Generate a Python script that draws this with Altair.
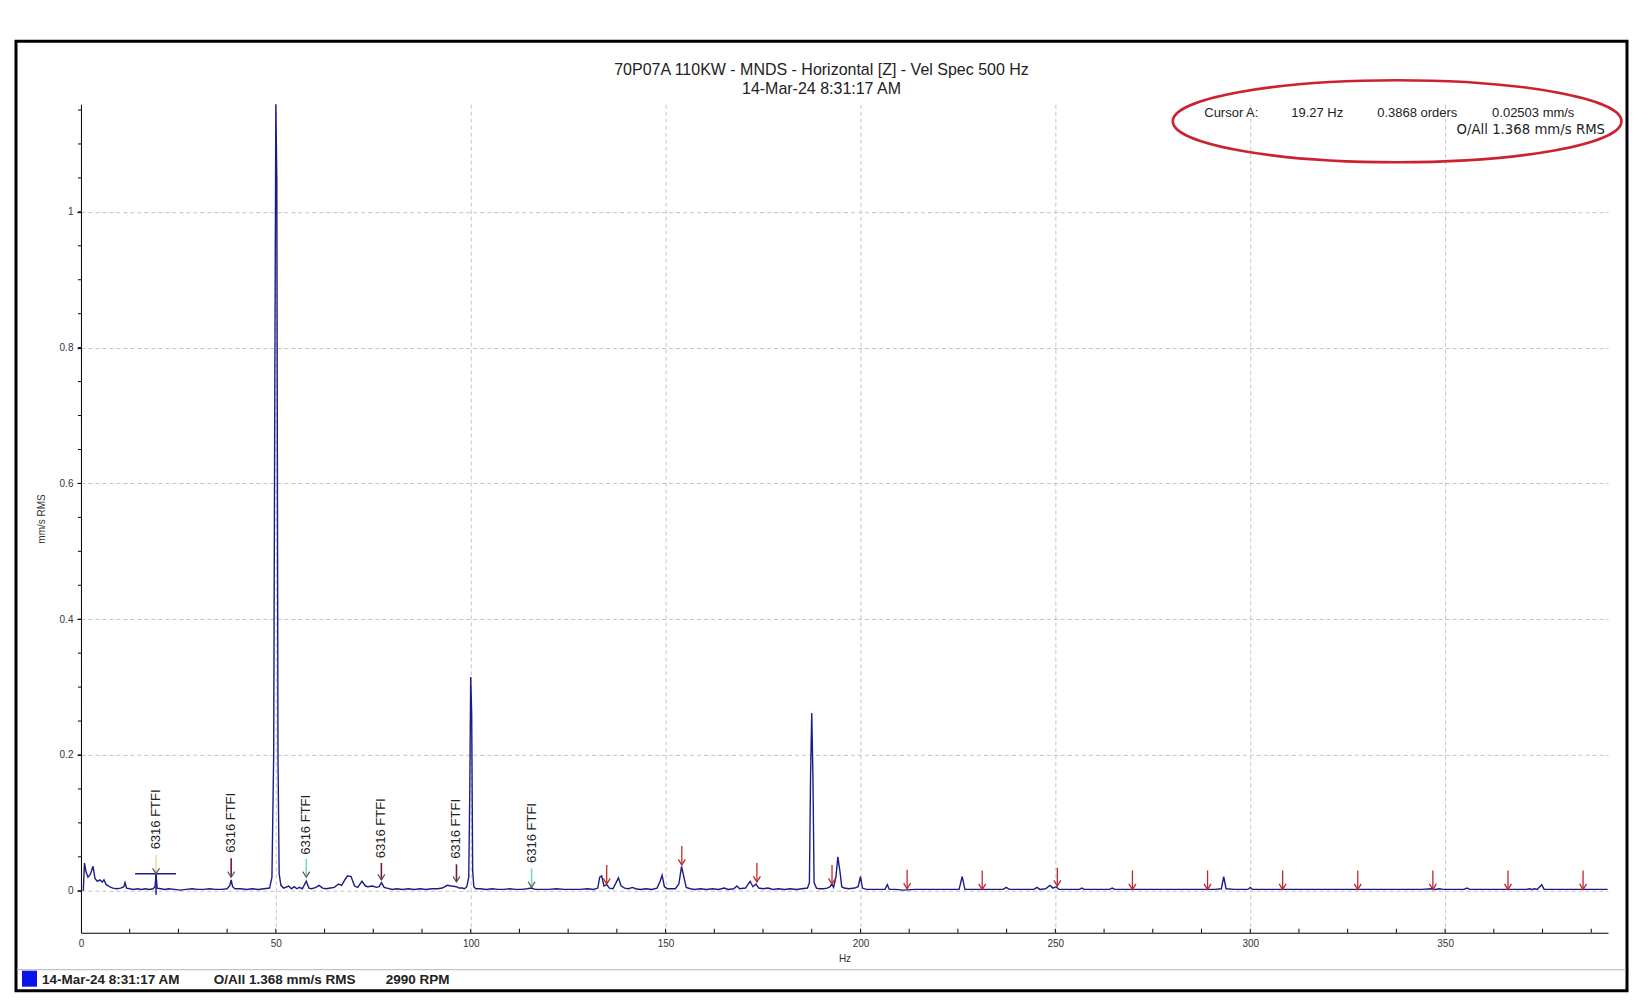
"""
Velocity spectrum plot, 70P07A 110KW motor NDS horizontal.
"""
import altair as alt
import pandas as pd

FONT = "Liberation Sans"

# Spectrum (Hz / mm/s RMS).
freq_hz = [0.6, 0.9, 1.3, 1.8, 2.4, 3.1, 3.6, 4.2, 4.8, 5.5, 5.9, 6.5, 7.3, 8.2, 9.2,
           10.2, 11.0, 11.3, 11.7, 12.5, 13.5, 14.5, 15.5, 16.5, 17.5, 18.5, 19.0, 19.27,
           19.55, 20.5, 21.5, 22.5, 24.0, 25.5, 27.0, 28.5, 30.0, 31.5, 33.0, 34.5, 36.0,
           37.5, 38.2, 38.55, 38.9, 39.5, 41.0, 42.5, 44.0, 45.5, 47.0, 48.4, 49.0, 49.45,
           49.75, 50.0, 50.25, 50.55, 50.85, 51.3, 52.0, 53.3, 54.0, 54.7, 55.4, 56.0, 56.8,
           57.8, 58.5, 59.2, 60.3, 61.1, 62.0, 62.9, 64.0, 65.0, 66.1, 66.9, 67.8, 68.4,
           69.3, 70.2, 71.0, 72.1, 73.0, 73.6, 74.8, 75.8, 76.5, 77.1, 77.8, 78.5, 79.9,
           81.0, 82.5, 84.0, 85.5, 87.0, 88.5, 90.0, 91.5, 92.7, 94.0, 95.0, 96.35, 97.0,
           97.8, 98.4, 99.0, 99.5, 99.75, 100.0, 100.25, 100.5, 100.8, 101.3, 102.5, 104.0,
           105.5, 107.0, 108.5, 110.0, 111.5, 113.0, 114.5, 115.6, 116.5, 118.0, 120.0,
           122.0, 124.0, 126.0, 128.0, 130.0, 131.5, 132.6, 133.1, 133.6, 134.2, 134.9,
           135.6, 136.5, 137.3, 137.9, 138.6, 139.5, 140.5, 141.5, 142.3, 143.5, 145.0,
           146.5, 147.8, 148.6, 149.1, 149.7, 150.5, 151.5, 152.5, 153.4, 154.1, 154.7,
           155.3, 156.3, 157.5, 159.0, 160.5, 162.0, 163.5, 165.1, 166.0, 167.5, 168.3,
           169.0, 170.5, 171.7, 172.4, 173.2, 173.9, 175.0, 176.3, 177.5, 179.0, 180.5,
           182.0, 183.5, 185.0, 186.4, 186.9, 187.2, 187.5, 187.8, 188.1, 188.7, 189.5,
           190.5, 191.5, 192.2, 192.6, 193.1, 193.7, 194.2, 194.7, 195.2, 195.8, 197.0,
           198.5, 199.4, 200.0, 200.5, 201.5, 203.0, 204.5, 206.3, 206.9, 207.4, 209.0,
           211.0, 214.0, 217.0, 220.0, 223.0, 225.3, 226.1, 226.8, 229.0, 232.0, 235.0,
           236.6, 237.4, 238.2, 241.0, 244.5, 245.3, 246.0, 247.5, 248.6, 249.4, 250.2,
           250.9, 253.0, 256.2, 256.8, 257.4, 260.0, 263.9, 264.6, 265.2, 268.0, 272.0,
           276.0, 280.0, 284.0, 288.0, 291.0, 292.6, 293.2, 293.8, 296.0, 299.4, 300.0,
           300.6, 304.0, 308.0, 312.0, 316.0, 320.0, 324.0, 328.0, 332.0, 336.0, 340.0,
           344.0, 346.5, 347.5, 348.5, 349.5, 352.0, 354.9, 355.6, 356.3, 359.0, 363.0,
           367.0, 370.9, 371.6, 372.3, 373.0, 373.6, 374.8, 375.4, 378.0, 382.0, 386.0,
           389.0, 391.7]
vel_mm_s = [0.0, 0.041, 0.028, 0.020, 0.024, 0.036, 0.018, 0.014, 0.016, 0.013, 0.016, 0.009,
            0.006, 0.004, 0.003, 0.004, 0.006, 0.012, 0.004, 0.003, 0.002, 0.003, 0.002,
            0.003, 0.002, 0.003, 0.006, 0.025, 0.004, 0.003, 0.002, 0.003, 0.002, 0.001,
            0.002, 0.003, 0.002, 0.002, 0.003, 0.002, 0.002, 0.003, 0.008, 0.016, 0.006,
            0.003, 0.003, 0.002, 0.003, 0.002, 0.003, 0.004, 0.020, 0.200, 0.760, 1.160,
            1.050, 0.200, 0.025, 0.008, 0.004, 0.007, 0.003, 0.006, 0.003, 0.005, 0.003,
            0.014, 0.004, 0.003, 0.005, 0.008, 0.004, 0.003, 0.004, 0.005, 0.010, 0.008,
            0.017, 0.022, 0.021, 0.007, 0.005, 0.014, 0.007, 0.006, 0.007, 0.005, 0.006,
            0.012, 0.005, 0.004, 0.002, 0.003, 0.002, 0.003, 0.002, 0.003, 0.002, 0.003,
            0.003, 0.004, 0.008, 0.007, 0.006, 0.004, 0.004, 0.003, 0.006, 0.020, 0.140,
            0.315, 0.260, 0.030, 0.006, 0.003, 0.003, 0.002, 0.003, 0.002, 0.002, 0.003,
            0.002, 0.002, 0.003, 0.004, 0.002, 0.002, 0.002, 0.003, 0.002, 0.002, 0.002,
            0.003, 0.002, 0.004, 0.020, 0.022, 0.007, 0.009, 0.004, 0.003, 0.012, 0.019,
            0.007, 0.004, 0.003, 0.005, 0.003, 0.002, 0.003, 0.002, 0.004, 0.014, 0.023,
            0.006, 0.003, 0.003, 0.003, 0.010, 0.036, 0.020, 0.005, 0.003, 0.002, 0.003,
            0.002, 0.003, 0.002, 0.004, 0.002, 0.003, 0.007, 0.003, 0.004, 0.014, 0.006,
            0.010, 0.004, 0.003, 0.004, 0.002, 0.003, 0.002, 0.003, 0.002, 0.003, 0.004,
            0.012, 0.170, 0.262, 0.170, 0.012, 0.004, 0.003, 0.003, 0.004, 0.006, 0.010,
            0.005, 0.020, 0.050, 0.030, 0.006, 0.004, 0.003, 0.004, 0.006, 0.021, 0.004,
            0.002, 0.002, 0.002, 0.002, 0.009, 0.002, 0.002, 0.001, 0.002, 0.002, 0.002,
            0.002, 0.002, 0.021, 0.002, 0.002, 0.002, 0.002, 0.002, 0.005, 0.002, 0.002,
            0.002, 0.005, 0.002, 0.003, 0.008, 0.004, 0.006, 0.002, 0.002, 0.002, 0.004,
            0.002, 0.002, 0.002, 0.004, 0.002, 0.002, 0.002, 0.002, 0.002, 0.002, 0.002,
            0.002, 0.003, 0.021, 0.003, 0.002, 0.002, 0.005, 0.002, 0.002, 0.002, 0.002,
            0.002, 0.002, 0.002, 0.002, 0.002, 0.002, 0.002, 0.002, 0.003, 0.002, 0.003,
            0.002, 0.002, 0.002, 0.004, 0.002, 0.002, 0.002, 0.002, 0.002, 0.003, 0.002,
            0.003, 0.002, 0.009, 0.002, 0.002, 0.002, 0.002, 0.002, 0.002]

# Cursor A cross.
cursor_hz = [19.27]
cursor_val = [0.025]
cursor_hz_lo = [13.9]
cursor_hz_hi = [24.4]
cursor_val_lo = [-0.006]
cursor_val_hi = [0.030]

# 6316 FTFI markers (label start, stem top, arrow tip).
ftfi_hz = [19.27, 38.54, 57.81, 77.08, 96.35, 115.62]
ftfi_text = [0.061, 0.056, 0.053, 0.048, 0.047, 0.041]
ftfi_top = [0.053, 0.048, 0.047, 0.041, 0.039, 0.033]
ftfi_tip = [0.025, 0.020, 0.020, 0.016, 0.013, 0.005]
ftfi_color = ["#e6e29a", "#7a1535", "#74dcc4", "#7a1535", "#7a1535", "#74dcc4"]

# Red harmonic arrows.
arrow_hz = [134.89, 154.16, 173.43, 192.70, 211.97, 231.24, 250.51, 269.78, 289.05,
            308.32, 327.59, 346.86, 366.13, 385.40]
arrow_top = [0.038, 0.066, 0.041, 0.038, 0.031, 0.030, 0.034, 0.030, 0.030, 0.030,
             0.030, 0.030, 0.030, 0.030]
arrow_tip = [0.010, 0.038, 0.013, 0.010, 0.003, 0.002, 0.007, 0.002, 0.002, 0.002,
             0.002, 0.002, 0.002, 0.002]

# Axis ticks.
x_ticks = [0, 50, 100, 150, 200, 250, 300, 350]
y_ticks = [0, 0.2, 0.4, 0.6, 0.8, 1]
x_minor = [12.5 * i for i in range(1, 32)]
y_minor = [0.05 * i for i in range(0, 24)]

W, H = 1528, 829
LINE = "#1c1c86"
RED = "#c0282e"

x_scale = alt.Scale(domain=[0, 391.8], nice=False, zero=False)
y_scale = alt.Scale(domain=[-0.0618, 1.1585], nice=False, zero=False)
# Same axis object on every layer so the merged axis keeps it.
axis_style = dict(grid=True, gridColor="#c4c4c4", gridDash=[4, 3], gridWidth=1,
                  domainColor="black", domainWidth=1, tickColor="black",
                  labelFont=FONT, labelFontSize=10, labelColor="#333333",
                  titleFont=FONT, titleFontSize=10, titleFontWeight="normal",
                  titleColor="#333333")
x_axis = alt.Axis(values=x_ticks, title="Hz", tickSize=0, labelPadding=6,
                  labelFlush=False, titleY=26, titleBaseline="middle", **axis_style)
y_axis = alt.Axis(values=y_ticks, format="~g", title="mm/s RMS", tickSize=4,
                  labelPadding=4, titleX=-39, titleY=H / 2, titleBaseline="middle",
                  titleAlign="center", **axis_style)


def X(field):
    return alt.X(field, scale=x_scale, axis=x_axis)


def Y(field):
    return alt.Y(field, scale=y_scale, axis=y_axis)


spec = pd.DataFrame({"hz": freq_hz, "vel": vel_mm_s})

# Spectrum trace.
trace = alt.Chart(spec).mark_line(color=LINE, strokeWidth=1.4, clip=True).encode(
    x=X("hz:Q"), y=Y("vel:Q")
)

# Minor ticks on both axes.
xminor = alt.Chart(pd.DataFrame({"hz": x_minor})).mark_rule(color="black").encode(
    x=X("hz:Q"), y=alt.value(H - 4), y2=alt.value(H)
)
yminor = alt.Chart(pd.DataFrame({"vel": y_minor})).mark_rule(color="black").encode(
    y=Y("vel:Q"), x=alt.value(-3), x2=alt.value(0)
)

# Cursor cross.
cur = pd.DataFrame({"hz": cursor_hz, "val": cursor_val, "lo": cursor_hz_lo,
                    "hi": cursor_hz_hi, "vlo": cursor_val_lo, "vhi": cursor_val_hi})
cur_h = alt.Chart(cur).mark_rule(color=LINE, strokeWidth=1.5).encode(
    x=X("lo:Q"), x2="hi:Q", y=Y("val:Q")
)
cur_v = alt.Chart(cur).mark_rule(color=LINE, strokeWidth=1.5).encode(
    x=X("hz:Q"), y=Y("vlo:Q"), y2="vhi:Q"
)

# FTFI labels, stems and arrow heads.
ftfi = pd.DataFrame({"hz": ftfi_hz, "txt": ftfi_text, "top": ftfi_top,
                     "tip": ftfi_tip, "col": ftfi_color})
ftfi_label = alt.Chart(ftfi).mark_text(
    text="6316 FTFI", angle=270, align="left", baseline="middle",
    fontSize=13, font=FONT, color="#222222"
).encode(x=X("hz:Q"), y=Y("txt:Q"))
ftfi_stem = alt.Chart(ftfi).mark_rule(strokeWidth=1.6).encode(
    x=X("hz:Q"), y=Y("top:Q"), y2="tip:Q", color=alt.Color("col:N", scale=None)
)
CHEVRON = "M -1 -1.6 L 0 0 L 1 -1.6"
ftfi_head = alt.Chart(ftfi).mark_point(
    shape=CHEVRON, size=49, filled=False, opacity=1, color="#555555", strokeWidth=1.2
).encode(x=X("hz:Q"), y=Y("tip:Q"))

# Red harmonic arrows.
arrows = pd.DataFrame({"hz": arrow_hz, "top": arrow_top, "tip": arrow_tip})
arrow_stem = alt.Chart(arrows).mark_rule(color=RED, strokeWidth=1.3).encode(
    x=X("hz:Q"), y=Y("top:Q"), y2="tip:Q"
)
arrow_head = alt.Chart(arrows).mark_point(
    shape=CHEVRON, size=49, filled=False, opacity=1, color=RED, strokeWidth=1.3
).encode(x=X("hz:Q"), y=Y("tip:Q"))

# Decorations: frame, titles, cursor readout, legend strip.
blank = pd.DataFrame({"k": [0]})


def label(text, x, y, size=13, weight="normal", align="left", font=FONT, color="#222222"):
    return alt.Chart(blank).mark_text(
        text=text, fontSize=size, fontWeight=weight, align=align,
        baseline="middle", font=font, color=color
    ).encode(x=alt.value(x), y=alt.value(y))


frame = alt.Chart(blank).mark_rect(
    fill="transparent", stroke="black", strokeWidth=3
).encode(x=alt.value(-65), x2=alt.value(1547), y=alt.value(-63), y2=alt.value(887))
separator = alt.Chart(blank).mark_rule(color="#b4b4b4", strokeWidth=1).encode(
    x=alt.value(-64), x2=alt.value(1546), y=alt.value(866)
)
swatch = alt.Chart(blank).mark_rect(color="#0a14e6").encode(
    x=alt.value(-59), x2=alt.value(-44), y=alt.value(867), y2=alt.value(883)
)
ellipse = alt.Chart(blank).mark_point(
    shape="M -1 0 C -1 -0.101 -0.552 -0.183 0 -0.183 C 0.552 -0.183 1 -0.101 1 0 "
          "C 1 0.101 0.552 0.183 0 0.183 C -0.552 0.183 -1 0.101 -1 0 Z",
    size=449 ** 2, filled=False, opacity=1, color="#cc2230", strokeWidth=2.6
).encode(x=alt.value(1317), y=alt.value(17))

texts = [
    label("70P07A 110KW - MNDS - Horizontal [Z] - Vel Spec 500 Hz", 741, -34, size=16, align="center"),
    label("14-Mar-24 8:31:17 AM", 741, -15, size=16, align="center"),
    label("Cursor A:", 1124, 9),
    label("19.27 Hz", 1211, 9),
    label("0.3868 orders", 1297, 9),
    label("0.02503 mm/s", 1412, 9),
    label("O/All 1.368 mm/s RMS", 1525, 26, size=13.3, font="DejaVu Sans", align="right"),
    label("14-Mar-24 8:31:17 AM", -39, 876, size=13.5, weight="bold"),
    label("O/All 1.368 mm/s RMS", 133, 876, size=13.5, weight="bold"),
    label("2990 RPM", 305, 876, size=13.5, weight="bold"),
]

chart = alt.layer(
    trace, xminor, yminor, cur_h, cur_v, ftfi_stem, ftfi_head, ftfi_label,
    arrow_stem, arrow_head, frame, separator, swatch, ellipse, *texts
).properties(
    width=W, height=H,
    background="white",
    autosize=alt.AutoSizeParams(type="none"),
    padding={"left": 73, "top": 96, "right": 30, "bottom": 70}
).configure_view(
    stroke="transparent", strokeWidth=0
)

chart.save("out.html", embed_options={"renderer": "svg", "actions": False})
